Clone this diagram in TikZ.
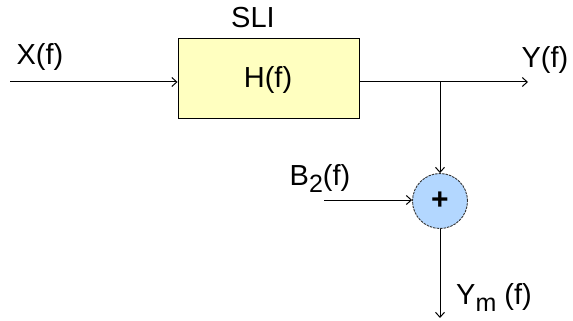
\documentclass[tikz,border=0pt]{standalone}
\usepackage{fontspec}
\setmainfont{Liberation Sans}
\usepackage{tikz}
\usetikzlibrary{positioning, arrows.meta}
\definecolor{boxyellow}{RGB}{255, 255, 192}
\definecolor{sumblue}{RGB}{179, 215, 255}
\newcommand{\lbl}{\fontsize{29}{32}\selectfont}
\newcommand{\lowsub}[1]{\raisebox{-7pt}{\fontsize{25}{26}\selectfont #1}}

\begin{document}
\begin{tikzpicture}[x=1pt, y=-1pt, >={Straight Barb[length=5pt, width=9pt]},
    every node/.style={font=\lbl},
    sysbox/.style={draw, fill=boxyellow, line width=0.9pt, minimum width=181pt, minimum height=80pt, inner sep=0pt},
    sumnode/.style={circle, draw=black!80, dash pattern=on 2.5pt off 1pt, fill=sumblue, line width=0.9pt, minimum size=55pt, inner sep=0pt},
    sig/.style={->, line width=1pt}]
    \useasboundingbox (0,0) rectangle (573,321);
    \node[sysbox] (sli) at (268.5,78) {};
    \node (hf) at (268,80) {H(f)};
    \node (slitxt) at (253,18) {SLI};
    \node[sumnode] (sum) at (440,201) {};
    \node (plus) at (440,201) {\fontsize{30}{30}\selectfont\textbf{+}};
    \coordinate (xin) at (10,82);
    \coordinate (yout) at (528,82);
    \coordinate (branch) at (440,82);
    \coordinate (bin) at (324,200);
    \coordinate (ymout) at (440,318);
    \draw[sig] (xin) -- (sli.west |- xin);
    \draw[line width=1pt] (sli.east |- yout) -- (branch);
    \draw[sig] (branch) -- (yout);
    \draw[sig] (branch) -- (sum.north);
    \draw[sig] (bin) -- (sum.west |- bin);
    \draw[sig] (sum.south) -- (ymout);
    % labels
    \node (xlabel) at (40,57) {X(f)};
    \node (ylabel) at (545,60) {Y(f)};
    \node (blabel) at (320,178) {B\lowsub{2}(f)};
    \node (ymlabel) at (494,297) {Y\lowsub{m} (f)};
\end{tikzpicture}
\end{document}
